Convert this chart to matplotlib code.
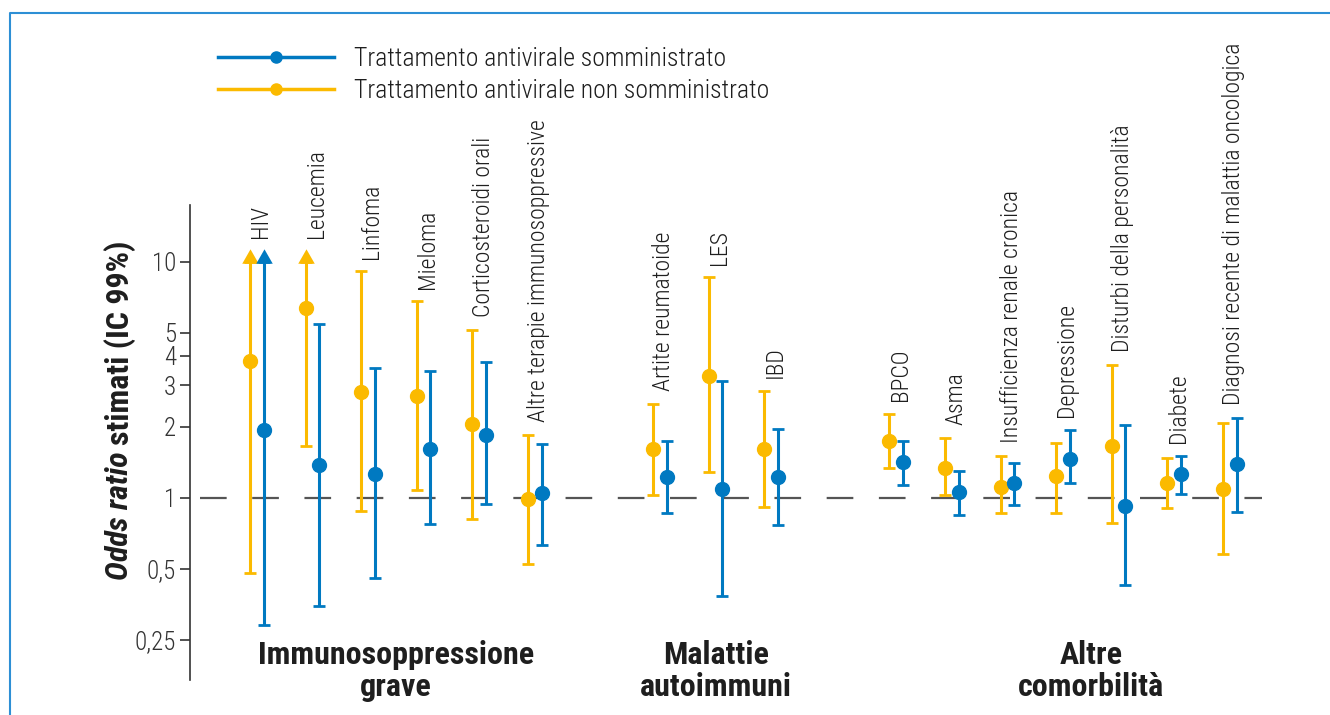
import matplotlib.pyplot as plt
import numpy as np
from matplotlib.lines import Line2D
from matplotlib.ticker import FixedLocator, NullLocator

plt.rcParams['font.family'] = ['Roboto Condensed', 'DejaVu Sans']

# categories, grouped
categories = ['HIV', 'Leucemia', 'Linfoma', 'Mieloma', 'Corticosteroidi orali',
              'Altre terapie immunosoppressive',
              'Artite reumatoide', 'LES', 'IBD',
              'BPCO', 'Asma', 'Insufficienza renale cronica', 'Depressione',
              'Disturbi della personalità', 'Diabete',
              'Diagnosi recente di malattia oncologica']
group_sizes = [6, 3, 7]
group_names = ['Immunosoppressione\ngrave', 'Malattie\nautoimmuni', 'Altre\ncomorbilità']

# antiviral not given (yellow): odds ratio and 99% CI
or_non = [3.8, 6.4, 2.8, 2.7, 2.06, 0.99, 1.61, 3.29, 1.61,
          1.74, 1.34, 1.11, 1.24, 1.66, 1.16, 1.09]
lo_non = [0.48, 1.66, 0.88, 1.08, 0.815, 0.525, 1.03, 1.28, 0.916,
          1.34, 1.03, 0.864, 0.864, 0.784, 0.907, 0.579]
hi_non = [10, 10, 9.1, 6.8, 5.15, 1.85, 2.5, 8.6, 2.84,
          2.27, 1.80, 1.51, 1.71, 3.66, 1.48, 2.08]
open_non = [True, True, False, False, False, False, False, False, False,
            False, False, False, False, False, False, False]

# antiviral given (blue)
or_som = [1.94, 1.38, 1.26, 1.61, 1.85, 1.05, 1.23, 1.09, 1.22,
          1.42, 1.06, 1.15, 1.46, 0.925, 1.26, 1.39]
lo_som = [0.29, 0.349, 0.458, 0.776, 0.943, 0.632, 0.864, 0.384, 0.768,
          1.135, 0.847, 0.934, 1.16, 0.428, 1.04, 0.872]
hi_som = [10, 5.46, 3.56, 3.45, 3.77, 1.69, 1.74, 3.13, 1.96,
          1.74, 1.30, 1.41, 1.94, 2.04, 1.51, 2.18]
open_som = [True, False, False, False, False, False, False, False, False,
            False, False, False, False, False, False, False]

yticks = [0.25, 0.5, 1, 2, 3, 4, 5, 10]
ytick_labels = ['0,25', '0,5', '1', '2', '3', '4', '5', '10']

YELLOW = '#fbba00'
BLUE = '#0079c1'
GREY = '#333333'
TEXT = '#1e1e1e'

# x positions: groups separated by an extra gap
gap = 1.25
pos = []
k = 0
for g, n in enumerate(group_sizes):
    for i in range(n):
        pos.append(k + g * gap)
        k += 1
pos = np.array(pos)
shift = 0.245

fig = plt.figure(figsize=(13.3, 7.15), dpi=100)
W, H = 1330, 715
ax = fig.add_axes([190 / W, 1 - 680 / H, (1262 - 190) / W, (680 - 205) / H])
ax.set_yscale('log')
ax.set_ylim(0.169, 17.4)
ax.set_xlim(-1.08, 18.2)

ax.hlines(1, -0.9, 18.2, color='#555555', lw=1.6, linestyles=(0, (12, 11.5)), zorder=1)

# up-pointing triangle with its base on the data point
arrow = [(-1, -0.15), (1, -0.15), (0, 1.6), (-1, -0.15)]


def draw_series(x, val, lo, hi, opened, color):
    val = np.array(val)
    yerr = [val - np.array(lo), np.array(hi) - val]
    ax.errorbar(x, val, yerr=yerr, fmt='o', color=color, ms=10, elinewidth=2.2,
                capsize=4.5, capthick=2, zorder=3)
    for xi, h, op in zip(x, hi, opened):
        if op:
            ax.plot([xi], [h], marker=arrow, ms=19, color=color, mew=0, zorder=4)


draw_series(pos, or_non, lo_non, hi_non, open_non, YELLOW)
draw_series(pos + shift, or_som, lo_som, hi_som, open_som, BLUE)

# category labels above each pair
for p, name, h1, h2, o1, o2 in zip(pos, categories, hi_non, hi_som, open_non, open_som):
    top = max(h1, h2)
    off = 9 + (8 if (o1 or o2) else 0)
    ax.annotate(name, (p + 0.19, top), xytext=(0, off), textcoords='offset points',
                rotation=90, ha='center', va='bottom', fontsize=17, color=TEXT,
                fontweight='light', annotation_clip=False)

# group labels under the axis
tr = ax.get_xaxis_transform()
start = 0
nudge = [0, 0, 0.5]
for g, n in enumerate(group_sizes):
    center = (pos[start] + pos[start + n - 1] + shift) / 2 + nudge[g]
    ax.text(center, (680 - 640) / 475, group_names[g], transform=tr, ha='center',
            va='top', fontsize=23, fontweight='bold', color=TEXT,
            linespacing=1.1)
    start += n

ax.yaxis.set_major_locator(FixedLocator(yticks))
ax.yaxis.set_minor_locator(NullLocator())
ax.set_yticklabels(ytick_labels, fontweight='light')
ax.tick_params(axis='y', labelsize=18, length=7, width=1.2, color=GREY,
               labelcolor='#333333', pad=3)
ax.set_xticks([])
for s in ['top', 'right', 'bottom']:
    ax.spines[s].set_visible(False)
ax.spines['left'].set_color(GREY)
ax.spines['left'].set_linewidth(1.2)

# y label: bold italic part followed by bold part
fig.canvas.draw()
r = fig.canvas.get_renderer()
ylab_x = 120 / W
t1 = fig.text(ylab_x, 1 - 580 / H, 'Odds ratio', rotation=90, rotation_mode='anchor',
              ha='left', va='center', fontsize=23, fontweight='bold', style='italic',
              color=TEXT)
bb = t1.get_window_extent(renderer=r)
fig.text(ylab_x, bb.y1 / H + 6 / H, 'stimati (IC 99%)', rotation=90,
         rotation_mode='anchor', ha='left', va='center', fontsize=23,
         fontweight='bold', color=TEXT)

# legend
handles = [Line2D([], [], color=BLUE, lw=2.5, marker='o', ms=8),
           Line2D([], [], color=YELLOW, lw=2.5, marker='o', ms=8)]
fig.legend(handles, ['Trattamento antivirale somministrato',
                     'Trattamento antivirale non somministrato'],
           loc='upper left', bbox_to_anchor=(218 / W, 1 - 47 / H), frameon=False,
           handlelength=4.5, handletextpad=0.8, labelspacing=0.3,
           borderpad=0, borderaxespad=0, labelcolor=TEXT,
           prop={'size': 18.5, 'weight': 'light'})

# outer frame: left and top edges
fx = [10 / W, 10 / W, 1]
fy = [0, 1 - 13 / H, 1 - 13 / H]
fig.add_artist(Line2D(fx, fy, color='#2d8fd5', lw=1.5, transform=fig.transFigure))

fig.savefig('out.png', dpi=100)
